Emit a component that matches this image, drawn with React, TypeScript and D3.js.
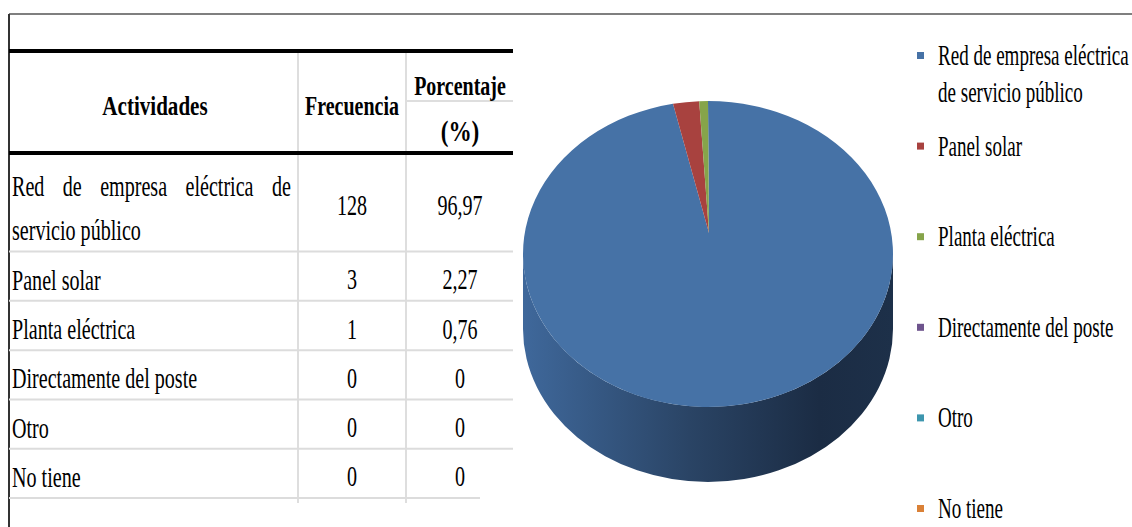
import React from 'react';
import * as d3 from 'd3';

const categories = [
  'Red de empresa eléctrica de servicio público',
  'Panel solar',
  'Planta eléctrica',
  'Directamente del poste',
  'Otro',
  'No tiene',
];
const frecuencia = [128, 3, 1, 0, 0, 0];
const porcentaje = ['96,97', '2,27', '0,76', '0', '0', '0'];
const sliceColors = ['#4672A6', '#A8423F', '#86A44A', '#6E548D', '#3D96AE', '#DA8137'];

const W = 1132;
const H = 527;
const FONT = '"Liberation Serif", "Times New Roman", serif';

// table layout
const tableLeft = 9;
const tableRight = 513;
const col1 = 298;
const col2 = 406;
const headTop = 51;
const headBottom = 153;
const rowUnits = [2, 1, 1, 1, 1, 1];

// pie layout
const cx = 708;
const cy = 254;
const rx = 185;
const ry = 153;
const depth = 75;
const apex = { x: 709, y: 233 };

const T: React.FC<{ x: number; y: number; sx?: number; anchor?: string; bold?: boolean; size?: number; ws?: number; children: React.ReactNode }> = ({ x, y, sx = 0.67, anchor = 'start', bold = false, size = 30, ws, children }) => (
  <text
    transform={`translate(${x},${y}) scale(${sx},1)`}
    textAnchor={anchor}
    fontFamily={FONT}
    fontSize={size}
    fontWeight={bold ? 'bold' : 'normal'}
    wordSpacing={ws}
    fill="#000"
  >
    {children}
  </text>
);

const App: React.FC = () => {
  // row boundaries
  const unit = d3.scaleLinear().domain([0, d3.sum(rowUnits)]).range([headBottom, 498]);
  const cum = [0, ...d3.cumsum(rowUnits)];
  const rowTops = cum.slice(0, -1).map(c => unit(c));
  const rowBottoms = cum.slice(1).map(c => unit(c));

  const pie = d3.pie<number>().sort(null).value(d => d);
  const arcs = pie(frecuencia);
  const pt = (a: number) => [cx + rx * Math.sin(a), cy - ry * Math.cos(a)];

  const slicePath = (a0: number, a1: number) => {
    const [x0, y0] = pt(a0);
    const [x1, y1] = pt(a1);
    const large = a1 - a0 > Math.PI ? 1 : 0;
    return `M${apex.x},${apex.y}L${x0},${y0}A${rx},${ry} 0 ${large} 1 ${x1},${y1}Z`;
  };

  const sidePath =
    `M${cx - rx},${cy}L${cx - rx},${cy + depth}` +
    `A${rx},${ry} 0 0 0 ${cx + rx},${cy + depth}` +
    `L${cx + rx},${cy}A${rx},${ry} 0 0 1 ${cx - rx},${cy}Z`;

  const legendY = d3.scaleLinear().domain([0, categories.length - 1]).range([65, 518]);

  return (
    <svg width={W} height={H} style={{ position: 'absolute', left: 0, top: 0, background: '#fff' }}>
      <defs>
        <linearGradient id="side" x1="0" x2="1" y1="0" y2="0">
          <stop offset="0%" stopColor="#3F689B" />
          <stop offset="45%" stopColor="#2A4465" />
          <stop offset="80%" stopColor="#1B2C44" />
          <stop offset="100%" stopColor="#1D3049" />
        </linearGradient>
      </defs>

      {/* table frame */}
      <line x1={tableLeft} x2={W} y1={14} y2={14} stroke="#555" strokeWidth={1.5} />
      <line x1={tableLeft} x2={tableLeft} y1={14} y2={H} stroke="#333" strokeWidth={2} />
      <line x1={col1} x2={col1} y1={headTop} y2={503} stroke="#dedede" strokeWidth={2} />
      <line x1={col2} x2={col2} y1={headTop} y2={503} stroke="#dedede" strokeWidth={2} />
      <line x1={col2} x2={tableRight} y1={101} y2={101} stroke="#dedede" strokeWidth={2} />
      {rowBottoms.map((y, i) => (
        <line key={i} x1={tableLeft} x2={i === rowBottoms.length - 1 ? 480 : tableRight} y1={y} y2={y} stroke="#dcdcdc" strokeWidth={2} />
      ))}
      <line x1={tableLeft} x2={tableRight} y1={headTop} y2={headTop} stroke="#000" strokeWidth={4} />
      <line x1={tableLeft} x2={tableRight} y1={headBottom} y2={headBottom} stroke="#000" strokeWidth={4} />

      {/* header */}
      <T x={155} y={115} anchor="middle" bold sx={0.78} size={27}>Actividades</T>
      <T x={352} y={115} anchor="middle" bold sx={0.74} size={27}>Frecuencia</T>
      <T x={460} y={95} anchor="middle" bold sx={0.74} size={27}>Porcentaje</T>
      <T x={460} y={141} anchor="middle" bold sx={0.8} size={29}>(%)</T>

      {/* rows */}
      {categories.map((c, i) => {
        const top = rowTops[i];
        const bottom = rowBottoms[i];
        const mid = (top + bottom) / 2;
        return (
          <g key={c}>
            {i === 0 ? (
              <>
                <T x={12} y={top + 43} ws={20}>Red de empresa eléctrica de</T>
                <T x={12} y={top + 87}>servicio público</T>
              </>
            ) : (
              <T x={12} y={bottom - 11}>{c}</T>
            )}
            <T x={352} y={mid + 13} anchor="middle">{frecuencia[i]}</T>
            <T x={460} y={mid + 13} anchor="middle">{porcentaje[i]}</T>
          </g>
        );
      })}

      {/* 3D pie */}
      <path d={sidePath} fill="url(#side)" />
      {arcs.map((a, i) =>
        a.endAngle - a.startAngle > 0 ? (
          <path key={i} d={slicePath(a.startAngle, a.endAngle)} fill={sliceColors[i]} />
        ) : null
      )}

      {/* legend */}
      {categories.map((c, i) => {
        const y = legendY(i);
        return (
          <g key={c}>
            <rect x={917} y={y - 13} width={7} height={7} fill={sliceColors[i]} />
            {i === 0 ? (
              <>
                <T x={938} y={y} sx={0.635}>Red de empresa eléctrica</T>
                <T x={938} y={y + 37} sx={0.635}>de servicio público</T>
              </>
            ) : (
              <T x={938} y={y} sx={0.635}>{c}</T>
            )}
          </g>
        );
      })}
    </svg>
  );
};

export default App;
